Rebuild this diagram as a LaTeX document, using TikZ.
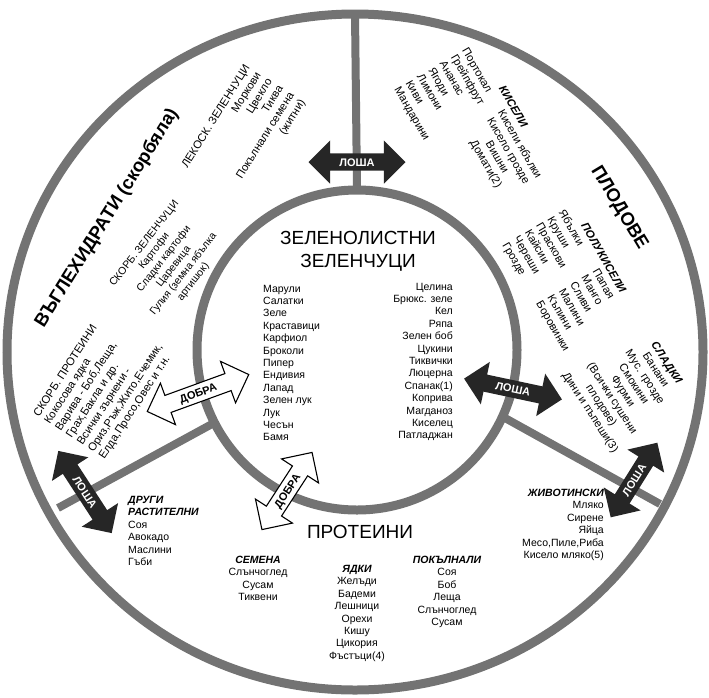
\documentclass[tikz,border=0pt]{standalone}
\usepackage{fontspec}
\setmainfont{Liberation Sans}
\usepackage{tikz}
\usetikzlibrary{shapes.arrows}
\def\outerring{(355,352) ellipse (348 and 338)}
\def\innerring{(357,350) circle (160)}
\def\listfont{\fontsize{10.5}{12.4}\selectfont}
\def\blockfont{\fontsize{11.2}{13}\selectfont}
\def\subhead{\bfseries\itshape}
\def\bigtitle{\fontsize{19}{23}\selectfont}

\begin{document}
\begin{tikzpicture}[x=1pt, y=-1pt,
	ring/.style={draw=black!55, line width=9pt},
	item/.style={font=\listfont, inner sep=0pt},
	block/.style={font=\blockfont, inner sep=0pt},
	bad/.style={double arrow, double arrow head extend=13pt, fill=black!85, text=white,
		font=\bfseries\fontsize{11}{11}\selectfont, text height=8pt, text depth=0pt,
		inner xsep=2pt, inner ysep=4.5pt},
	good/.style={bad, fill=white, draw=black, line width=1.1pt, text=black}]
	\useasboundingbox (0,0) rectangle (709,697);

	% rings and dividers
	\draw[ring] \outerring;
	\draw[ring] \innerring;
	\coordinate (topin) at (357,190);
	\coordinate (topout) at (355,14);
	\coordinate (leftin) at (212,424);
	\coordinate (leftout) at (58,508);
	\coordinate (rightin) at (505,418);
	\coordinate (rightout) at (660,504);
	\draw[ring, line width=8pt] (topin) -- (topout) (leftin) -- (leftout) (rightin) -- (rightout);

	% leafy greens
	\node[font=\bigtitle, align=center] (greens) at (358,251) {ЗЕЛЕНОЛИСТНИ\\ЗЕЛЕНЧУЦИ};
	\node[item, align=left, anchor=west] (greensL) at (263,363) {Марули\\Салатки\\Зеле\\Краставици\\Карфиол\\Броколи\\Пипер\\Ендивия\\Лапад\\Зелен лук\\Лук\\Чесън\\Бамя};
	\node[item, align=right, anchor=east] (greensR) at (453,362) {Целина\\Брюкс. зеле\\Кел\\Ряпа\\Зелен боб\\Цукини\\Тиквички\\Люцерна\\Спанак(1)\\Коприва\\Магданоз\\Киселец\\Патладжан};

	% carbohydrates
	\node[rotate=58, font=\bfseries\fontsize{18.5}{20}\selectfont] (carbs) at (107,218) {ВЪГЛЕХИДРАТИ (скорбяла)};
	\node[block, rotate=58, align=right] (lightveg) at (244,134) {ЛЕКОСК. ЗЕЛЕНЧУЦИ\\Моркови\\Цвекло\\Тиква\\Покълнали семена\\(житни)};
	\node[item, rotate=52, align=center] (starchveg) at (169,263) {СКОРБ. ЗЕЛЕНЧУЦИ\\Картофи\\Сладки картофи\\Царевица\\Гулия (земна ябълка\\артишок)};
	\node[block, rotate=57, align=left] (starchprot) at (104,384) {СКОРБ. ПРОТЕИНИ\\Кокосова ядка\\Варива - Боб,Леща,\\Грах,Бакла и др.\\Всички зърнени -\\Ориз,Ръж,Жито,Ечемик,\\Елда,Просо,Овес и т.н.};

	% fruit
	\node[rotate=-59, font=\bfseries\fontsize{18.5}{20}\selectfont] (fruit) at (619,208) {ПЛОДОВЕ};
	\node[block, rotate=-60] (sour) at (473,130) {\begin{tabular}{@{}l@{\hspace{12pt}}c@{}}
		\multicolumn{2}{c}{\subhead КИСЕЛИ}\\
		Портокал & Кисели ябълки\\
		Грейпфрут & Кисело грозде\\
		Ананас & Вишни\\
		Ягоди & Домати(2)\\
		Лимони\\
		Киви\\
		Мандарини
	\end{tabular}};
	\node[block, rotate=-60] (halfsour) at (569,278) {\begin{tabular}{@{}l@{\hspace{18pt}}l@{}}
		\multicolumn{2}{c}{\subhead ПОЛУКИСЕЛИ}\\
		Ябълки & Папая\\
		Круши & Манго\\
		Праскови & Сливи\\
		Кайсии & Малини\\
		Череши & Къпини\\
		Грозде & Боровинки
	\end{tabular}};
	\node[block, rotate=-57, align=center] (sweet) at (628,388) {\subhead СЛАДКИ\\Банани\\Мус. грозде\\Смокини\\Фурми\\(Всички сушени\\плодове)\\Дини и пъпеши(3)};

	% proteins
	\node[font=\bigtitle] (protein) at (360,532) {ПРОТЕИНИ};
	\node[item, align=left, anchor=north west] (otherplant) at (128,496) {\subhead ДРУГИ\\\subhead РАСТИТЕЛНИ\\Соя\\Авокадо\\Маслини\\Гъби};
	\node[item, align=center, anchor=north] (seeds) at (258,556) {\subhead СЕМЕНА\\Слънчоглед\\Сусам\\Тиквени};
	\node[item, align=center, anchor=north] (nuts) at (357,565) {\subhead ЯДКИ\\Желъди\\Бадеми\\Лешници\\Орехи\\Кишу\\Цикория\\Фъстъци(4)};
	\node[item, align=center, anchor=north] (sprouts) at (447,556) {\subhead ПОКЪЛНАЛИ\\Соя\\Боб\\Леща\\Слънчоглед\\Сусам};
	\node[item, align=right, anchor=north east] (animal) at (604,489) {\subhead ЖИВОТИНСКИ\\Мляко\\Сирене\\Яйца\\Месо,Пиле,Риба\\Кисело мляко(5)};

	% combinations
	\node[bad, minimum height=97pt] (bad1) at (357,162) {ЛОША};
	\node[bad, rotate=-12, minimum height=100pt] (bad2) at (513,389) {ЛОША};
	\node[bad, rotate=58, minimum height=88pt] (bad3) at (634,480) {ЛОША};
	\node[bad, rotate=-57, minimum height=98pt] (bad4) at (85,492) {ЛОША};
	\node[good, rotate=20, minimum height=108pt] (good1) at (198,393) {ДОБРА};
	\node[good, rotate=57, minimum height=92pt] (good2) at (287,491) {ДОБРА};
\end{tikzpicture}
\end{document}
